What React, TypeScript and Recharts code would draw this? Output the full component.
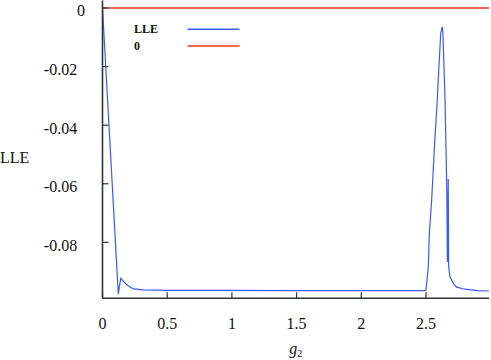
import React from 'react'
import { LineChart, Line, XAxis, YAxis, ReferenceLine, Legend, Label } from 'recharts'

const BLUE = '#3a5cf6'
const RED = '#f2301c'
const AXIS = '#2e3236'
const SERIF = 'Liberation Serif, Times New Roman, serif'

// g2 sweep and the largest Lyapunov exponent
const g2Values = [
  0, 0.122, 0.141, 0.187, 0.238, 0.315, 0.5, 1.0, 1.5, 2.0, 2.49,
  2.5, 2.518, 2.526, 2.544, 2.564, 2.587, 2.6, 2.614, 2.626,
  2.631, 2.639, 2.647, 2.655, 2.662, 2.665, 2.672, 2.675, 2.685,
  2.711, 2.737, 2.801, 2.9, 2.987,
]
const lleValues = [
  0, -0.0976, -0.0923, -0.0945, -0.0959, -0.0962, -0.0964, -0.0964, -0.0965, -0.0965, -0.0965,
  -0.0962, -0.0883, -0.0769, -0.0655, -0.0485, -0.0314, -0.02, -0.0086, -0.0064,
  -0.0086, -0.02, -0.0314, -0.0485, -0.0655, -0.0867, -0.0584, -0.0883, -0.0917,
  -0.094, -0.0953, -0.096, -0.0965, -0.0966,
]

const xTicks = [0, 0.5, 1, 1.5, 2, 2.5]
const yTicks = [0, -0.02, -0.04, -0.06, -0.08]
const legendItems = [
  { name: 'LLE', color: BLUE },
  { name: '0', color: RED },
]

const data = g2Values.map((g, i) => ({ g, lle: lleValues[i] }))

const txt = { fontFamily: SERIF, fontSize: 16, fill: '#111' }

const XTick = ({ x, y, payload }: any) => (
  <text x={x} y={y + 30.2} textAnchor="middle" style={txt}>
    {payload.value}
  </text>
)

const YTick = ({ x, y, payload }: any) => (
  // gnuplot put the "0" label a little further right than the others
  <text x={payload.value === 0 ? x - 17.5 : x - 25.3} y={y + 8.5} textAnchor="end" style={txt}>
    {payload.value}
  </text>
)

const NoLabel = () => <g />

const KeyBox = () => (
  <svg width={491} height={60}>
    {legendItems.map((item, i) => (
      <g key={item.name}>
        <text x={134} y={33 + i * 16.5} style={{ ...txt, fontSize: 12, fontWeight: 'bold' }}>
          {item.name}
        </text>
        <line x1={187.5} x2={239.5} y1={29.3 + i * 16.7} y2={29.3 + i * 16.7} stroke={item.color} strokeWidth={1.6} />
      </g>
    ))}
  </svg>
)

export default function App() {
  return (
    <div style={{ position: 'absolute', left: 0, top: 0, width: 491, height: 360, background: '#fff' }}>
      <LineChart width={491} height={360} data={data} margin={{ top: 0.5, right: 2, bottom: 0, left: 0 }}>
        <XAxis
          dataKey="g"
          type="number"
          domain={[0, 2.987]}
          allowDataOverflow
          ticks={xTicks}
          interval={0}
          height={61.7}
          tickSize={-6}
          tickMargin={6}
          tick={<XTick />}
          axisLine={{ stroke: AXIS, strokeWidth: 1.6 }}
          tickLine={{ stroke: AXIS, strokeWidth: 1.2 }}
        >
          <Label
            content={({ viewBox }: any) => (
              <text x={viewBox.x + viewBox.width / 2} y={viewBox.y + 55.7} textAnchor="middle" style={txt}>
                <tspan style={{ fontStyle: 'italic' }}>g</tspan>
                <tspan style={{ fontSize: 10 }} dy={3}>2</tspan>
              </text>
            )}
          />
        </XAxis>
        <XAxis
          xAxisId="top"
          orientation="top"
          type="number"
          domain={[0, 2.987]}
          allowDataOverflow
          ticks={xTicks}
          interval={0}
          height={0}
          tickSize={-6}
          tick={NoLabel}
          axisLine={{ stroke: '#000', strokeWidth: 1.2 }}
          tickLine={{ stroke: AXIS, strokeWidth: 1.2 }}
        />
        <YAxis
          type="number"
          domain={[-0.0991, 0.00256]}
          allowDataOverflow
          ticks={yTicks}
          interval={0}
          width={102.5}
          tickSize={-6}
          tickMargin={6}
          tick={<YTick />}
          axisLine={{ stroke: AXIS, strokeWidth: 1.6 }}
          tickLine={{ stroke: AXIS, strokeWidth: 1.2 }}
        >
          <Label
            content={({ viewBox }: any) => (
              <text x={viewBox.x} y={viewBox.y + viewBox.height / 2 + 13.5} style={txt}>
                LLE
              </text>
            )}
          />
        </YAxis>
        <YAxis
          yAxisId="right"
          orientation="right"
          type="number"
          domain={[-0.0991, 0.00256]}
          allowDataOverflow
          ticks={yTicks}
          interval={0}
          width={0}
          tickSize={-6}
          tick={NoLabel}
          axisLine={{ stroke: AXIS, strokeWidth: 1.6 }}
          tickLine={{ stroke: AXIS, strokeWidth: 1.2 }}
        />
        <ReferenceLine y={0} stroke={RED} strokeWidth={1.3} />
        <Line
          type="linear"
          dataKey="lle"
          stroke={BLUE}
          strokeWidth={1.2}
          dot={false}
          isAnimationActive={false}
        />
        <Legend
          layout="vertical"
          align="center"
          verticalAlign="middle"
          content={<KeyBox />}
          wrapperStyle={{ position: 'absolute', left: 0, top: 0, width: 491, height: 60 }}
        />
      </LineChart>
    </div>
  )
}
